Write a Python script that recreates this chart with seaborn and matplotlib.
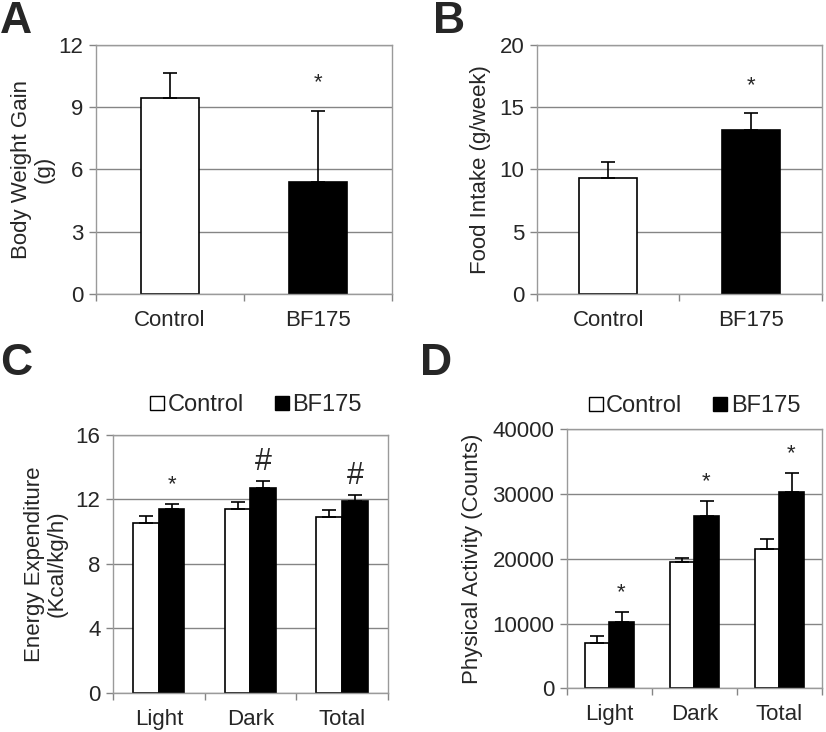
import numpy as np
import pandas as pd
import matplotlib
matplotlib.use('Agg')
import matplotlib.pyplot as plt
import seaborn as sns
from matplotlib.lines import Line2D

# --- data ---
groups = ['Control', 'BF175']
periods = ['Light', 'Dark', 'Total']

weight_gain = [9.45, 5.41]
weight_gain_err = [1.22, 3.41]

food_intake = [9.29, 13.15]
food_intake_err = [1.34, 1.41]

energy_ctrl = [10.52, 11.43, 10.93]
energy_ctrl_err = [0.45, 0.43, 0.41]
energy_bf = [11.40, 12.71, 11.92]
energy_bf_err = [0.34, 0.42, 0.34]
energy_marks = ['*', '#', '#']

activity_ctrl = [6950, 19460, 21470]
activity_ctrl_err = [1130, 620, 1540]
activity_bf = [10290, 26660, 30270]
activity_bf_err = [1540, 2310, 3030]
activity_marks = ['*', '*', '*']

pal = {'Control': 'white', 'BF175': 'black'}

sns.set_style('white')
plt.rcParams['font.family'] = ['Liberation Sans', 'DejaVu Sans']

fig = plt.figure(figsize=(8.26, 7.32), dpi=100)
axA = fig.add_axes([0.1162, 0.5984, 0.3584, 0.3402])
axB = fig.add_axes([0.6501, 0.5984, 0.3450, 0.3402])
axC = fig.add_axes([0.1368, 0.0537, 0.3329, 0.3520])
axD = fig.add_axes([0.6864, 0.0597, 0.3087, 0.3538])

FS = 16


def style_axes(ax, ymax, step, ncat):
    ax.set_xlim(-0.5, ncat - 0.5)
    ax.set_ylim(0, ymax)
    ax.set_yticks(np.arange(0, ymax + step / 2, step))
    ax.set_xticks(np.arange(-0.5, ncat, 1.0), minor=True)
    ax.yaxis.grid(True, color='#858585', lw=1.0)
    ax.set_axisbelow(True)
    for s in ax.spines.values():
        s.set_color('#9a9a9a')
        s.set_linewidth(1.0)
    ax.tick_params(axis='y', which='major', left=True, length=5, width=1,
                   color='#858585', labelsize=FS, pad=4)
    ax.tick_params(axis='x', which='major', bottom=False, labelsize=FS, pad=8)
    ax.tick_params(axis='x', which='minor', bottom=True, length=5, width=1,
                   color='#858585')
    ax.set_xlabel('')


def add_errors(ax, errs):
    bars = sorted(ax.patches, key=lambda p: p.get_x())
    for p, e in zip(bars, errs):
        xc = p.get_x() + p.get_width() / 2
        ax.errorbar(xc, p.get_height(), yerr=[[0], [e]], fmt='none',
                    ecolor='black', elinewidth=1.2, capsize=5, capthick=1.2)


# A
dfA = pd.DataFrame({'group': groups, 'value': weight_gain})
sns.barplot(data=dfA, x='group', y='value', hue='group', palette=pal,
            edgecolor='black', linewidth=1.2, width=0.39, legend=False, ax=axA)
add_errors(axA, weight_gain_err)
style_axes(axA, 12, 3, 2)
axA.set_ylabel('Body Weight Gain\n(g)', fontsize=FS, linespacing=1.1, labelpad=3)
axA.text(1, 10.2, '*', ha='center', va='center', fontsize=16)

# B
dfB = pd.DataFrame({'group': groups, 'value': food_intake})
sns.barplot(data=dfB, x='group', y='value', hue='group', palette=pal,
            edgecolor='black', linewidth=1.2, width=0.41, legend=False, ax=axB)
add_errors(axB, food_intake_err)
style_axes(axB, 20, 5, 2)
axB.set_ylabel('Food Intake (g/week)', fontsize=FS, labelpad=6)
axB.text(1, 16.7, '*', ha='center', va='center', fontsize=16)

# C
dfC = pd.DataFrame({'period': periods * 2,
                    'group': ['Control'] * 3 + ['BF175'] * 3,
                    'value': energy_ctrl + energy_bf})
sns.barplot(data=dfC, x='period', y='value', hue='group', palette=pal,
            edgecolor='black', linewidth=1.2, width=0.56, legend=False, ax=axC)
errC = [v for pair in zip(energy_ctrl_err, energy_bf_err) for v in pair]
add_errors(axC, errC)
style_axes(axC, 16, 4, 3)
axC.set_ylabel('Energy Expenditure\n(Kcal/kg/h)', fontsize=FS, linespacing=1.1,
               labelpad=6)
for i, m in enumerate(energy_marks):
    top = energy_bf[i] + energy_bf_err[i]
    axC.text(i + 0.14, top + 1.2, m, ha='center', va='center',
             fontsize=16 if m == '*' else 22)

# D
dfD = pd.DataFrame({'period': periods * 2,
                    'group': ['Control'] * 3 + ['BF175'] * 3,
                    'value': activity_ctrl + activity_bf})
sns.barplot(data=dfD, x='period', y='value', hue='group', palette=pal,
            edgecolor='black', linewidth=1.2, width=0.57, legend=False, ax=axD)
errD = [v for pair in zip(activity_ctrl_err, activity_bf_err) for v in pair]
add_errors(axD, errD)
style_axes(axD, 40000, 10000, 3)
axD.set_ylabel('Physical Activity (Counts)', fontsize=FS, labelpad=7)
for i, m in enumerate(activity_marks):
    top = activity_bf[i] + activity_bf_err[i]
    axD.text(i + 0.14, top + 2900, m, ha='center', va='center', fontsize=16)

# legends for C and D
handles = [Line2D([], [], marker='s', ls='none', markersize=10,
                  markerfacecolor=pal[g], markeredgecolor='black',
                  markeredgewidth=1, label=g) for g in groups]
for ax, x, y in [(axC, 0.52, 0.115), (axD, 0.5, 0.09)]:
    ax.legend(handles=handles, ncol=2, frameon=False, fontsize=17,
              loc='center', bbox_to_anchor=(x, 1 + y), handlelength=0.6,
              handletextpad=0.15, columnspacing=1.3, borderaxespad=0)

# panel letters
for lbl, x, y in [('A', 0.0, 0.998), ('B', 0.524, 0.998),
                  ('C', 0.0, 0.532), ('D', 0.508, 0.532)]:
    fig.text(x, y, lbl, fontsize=32, fontweight='bold', ha='left', va='top')

fig.savefig('out.png', dpi=100)
